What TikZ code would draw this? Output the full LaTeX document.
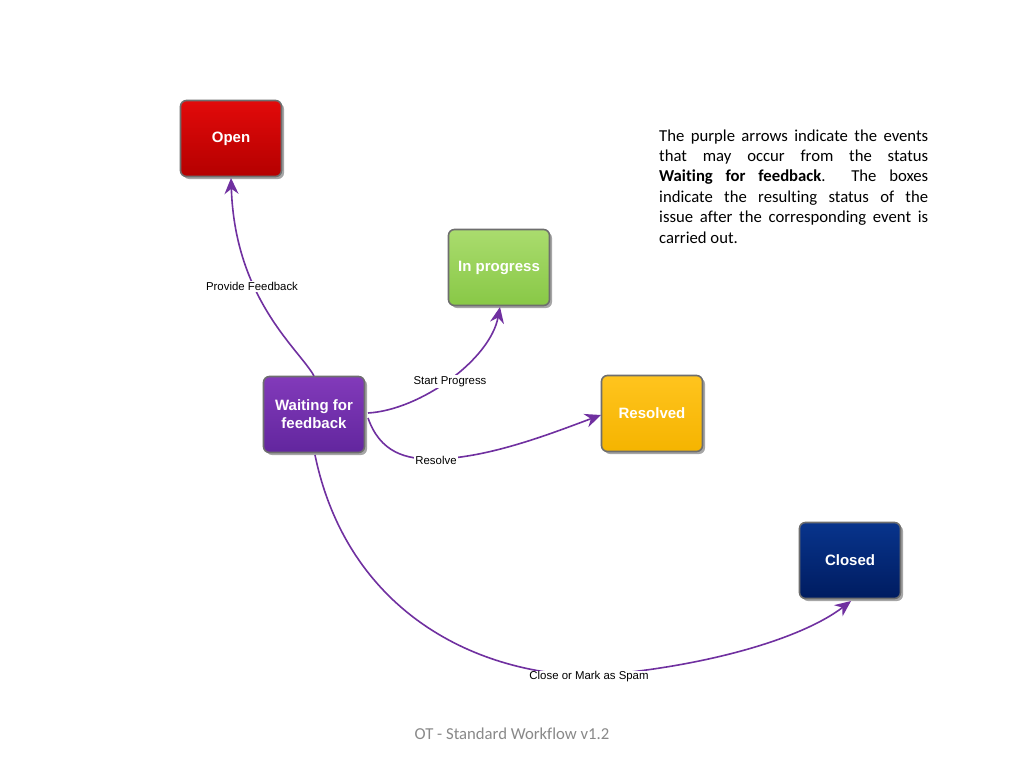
\documentclass[tikz,border=0pt]{standalone}
\usepackage{fontspec}
\newfontfamily\arialf{Liberation Sans}
\newfontfamily\calib[Ligatures={NoCommon,NoContextual},Contextuals=NoAlternate]{Carlito}
\usetikzlibrary{shadows,arrows.meta}
\definecolor{arrowpurple}{HTML}{7030A0}
\definecolor{boxborder}{HTML}{6E6E6E}
\tikzset{
  status/.style={draw=boxborder, line width=1.6pt, rounded corners=6pt,
    minimum width=101pt, minimum height=76pt, align=center,
    font=\arialf\bfseries\fontsize{15}{18}\selectfont, text=white,
    drop shadow={shadow xshift=2.5pt, shadow yshift=-2.5pt, fill=black, opacity=0.35}},
  flow/.style={draw=arrowpurple, line width=1.6pt,
    -{Stealth[length=16pt,width=14pt]}},
  evlabel/.style={fill=white, inner sep=1pt, font=\arialf\fontsize{11.4}{13}\selectfont}
}
\begin{document}
\begin{tikzpicture}[x=1pt,y=-1pt]
\useasboundingbox[fill=white] (0,0) rectangle (1024,768);

\node[status, top color={rgb,255:red,226;green,10;blue,10}, bottom color={rgb,255:red,180;green,0;blue,0}] (open) at (231,138.5) {Open};
\node[status, top color={rgb,255:red,170;green,220;blue,110}, bottom color={rgb,255:red,136;green,200;blue,70}] (prog) at (499,267.5) {In progress};
\node[status, top color={rgb,255:red,130;green,58;blue,186}, bottom color={rgb,255:red,98;green,38;blue,158}] (wait) at (314,414.5) {Waiting for\\feedback};
\node[status, top color={rgb,255:red,255;green,196;blue,30}, bottom color={rgb,255:red,245;green,180;blue,0}] (res) at (652,413.5) {Resolved};
\node[status, top color={rgb,255:red,8;green,52;blue,140}, bottom color={rgb,255:red,0;green,28;blue,96}] (closed) at (850,560.5) {Closed};

% connector anchors
\coordinate (wtop) at (314,376);
\coordinate (wr1) at (368,413);
\coordinate (wr2) at (368,418);
\coordinate (wbot) at (315,455);
\coordinate (obot) at (231,178);
\coordinate (pbot) at (500,307);
\coordinate (rleft) at (601,415);
\coordinate (cbot) at (851,601);
\coordinate (rmid) at (436,459);
\coordinate (cmid) at (589,676);

\draw[flow] (wtop) .. controls (300,350) and (235,300) .. (obot);
\draw[flow] (wr1) .. controls (420,410) and (490,360) .. (pbot);
\draw[flow] (wr2) .. controls (380,452) and (405,460) .. (rmid) .. controls (490,458) and (555,432) .. (rleft);
\draw[flow] (wbot) .. controls (345,600) and (460,672) .. (cmid) .. controls (700,668) and (800,640) .. (cbot);

\node[evlabel] (lpf) at (252,286.5) {Provide Feedback};
\node[evlabel] (lsp) at (450,381.5) {Start Progress};
\node[evlabel] (lrs) at (436,460) {Resolve};
\node[evlabel] (lcl) at (589,677) {Close or Mark as Spam};

\node[anchor=base west, text width=269pt, align=justify, inner sep=0pt,
  font=\calib\fontsize{16.7}{20.4}\selectfont] (para) at (659,141)
  {The purple arrows indicate the events\linebreak
   that may occur from the status\linebreak
   \textbf{Waiting for feedback}.\ \ The boxes\linebreak
   indicate the resulting status of the\linebreak
   issue after the corresponding event is\linebreak
   carried out.};

\node[anchor=base, inner sep=0pt, text={rgb,255:red,137;green,137;blue,137},
  font=\calib\fontsize{16.7}{20}\selectfont] (foot) at (512,739) {OT - Standard Workflow v1.2};
\end{tikzpicture}
\end{document}
